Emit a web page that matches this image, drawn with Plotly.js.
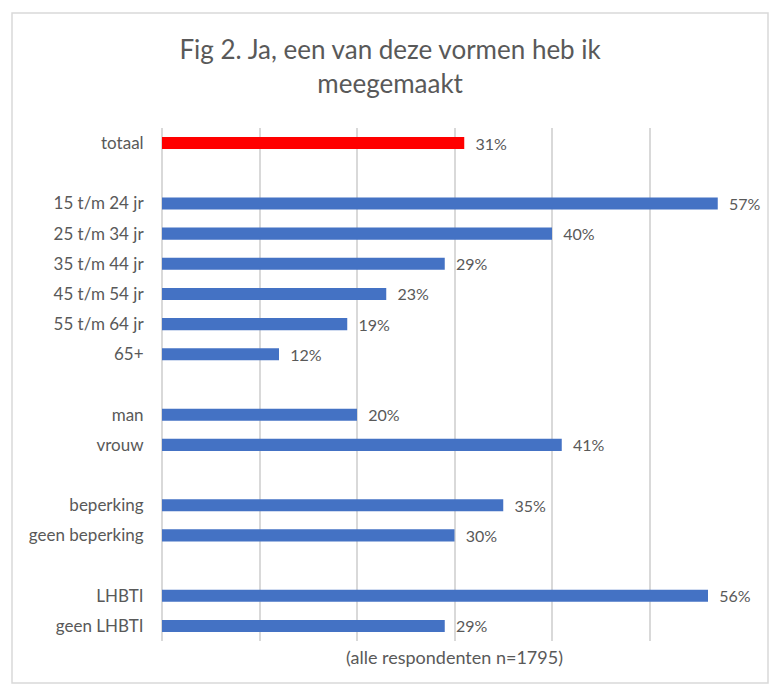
<!DOCTYPE html>
<html>
<head>
<meta charset="utf-8">
<script src="https://cdn.plot.ly/plotly-3.0.1.min.js"></script>
<style>html,body{margin:0;padding:0;background:#fff;}#chart{width:771px;height:686px;}</style>
</head>
<body>
<div id="chart"></div>
<script>
const categories = ["totaal", " ", "15 t/m 24 jr", "25 t/m 34 jr", "35 t/m 44 jr", "45 t/m 54 jr", "55 t/m 64 jr", "65+", "  ", "man", "vrouw", "   ", "beperking", "geen beperking", "    ", "LHBTI", "geen LHBTI"];
const values = [0.31, null, 0.57, 0.40, 0.29, 0.23, 0.19, 0.12, null, 0.20, 0.41, null, 0.35, 0.30, null, 0.56, 0.29];
const barColors = ["#FF0000", null, "#4472C4", "#4472C4", "#4472C4", "#4472C4", "#4472C4", "#4472C4", null, "#4472C4", "#4472C4", null, "#4472C4", "#4472C4", null, "#4472C4", "#4472C4"];
const xTicks = [0, 0.1, 0.2, 0.3, 0.4, 0.5, 0.6];

const labels = values.map(v => v === null ? "" : "\u00a0\u00a0" + Math.round(v * 100) + "%");
const FONT = "Lato, 'Open Sans', sans-serif";

const trace = {
  type: "bar",
  orientation: "h",
  y: categories,
  x: values,
  marker: {color: barColors.map(c => c || "#4472C4")},
  width: 0.4,
  text: labels,
  textposition: "outside",
  constraintext: "none",
  cliponaxis: false,
  textfont: {family: FONT, size: 16, color: "#595959"},
  hoverinfo: "skip"
};

const layout = {
  width: 771,
  height: 686,
  margin: {l: 162, r: 24, t: 128, b: 45},
  paper_bgcolor: "#ffffff",
  plot_bgcolor: "#ffffff",
  showlegend: false,
  font: {family: FONT, color: "#595959", size: 16},
  title: {
    text: "Fig 2. Ja, een van deze vormen heb ik<br>meegemaakt",
    font: {size: 26, color: "#595959", family: FONT},
    x: 0.506, xref: "container", xanchor: "center",
    y: 0.914, yref: "container", yanchor: "top"
  },
  xaxis: {
    range: [0, 0.6],
    tickvals: xTicks,
    showticklabels: false,
    showgrid: true,
    gridcolor: "#d9d9d9",
    gridwidth: 2,
    zeroline: true,
    zerolinecolor: "#d9d9d9",
    zerolinewidth: 2,
    showline: false,
    ticks: "",
    fixedrange: true,
    title: {text: "(alle respondenten n=1795)", font: {size: 18, color: "#595959", family: FONT}, standoff: 10}
  },
  yaxis: {
    type: "category",
    categoryorder: "array",
    categoryarray: categories,
    autorange: "reversed",
    showgrid: false,
    zeroline: false,
    showline: false,
    ticks: "outside",
    ticklen: 14,
    tickcolor: "rgba(0,0,0,0)",
    tickfont: {size: 17, color: "#595959", family: FONT},
    fixedrange: true
  },
  shapes: [{
    type: "rect", xref: "paper", yref: "paper",
    x0: -0.2564, x1: 1.0359, y0: -0.0819, y1: 1.2242,
    line: {color: "#d9d9d9", width: 1.5},
    fillcolor: "rgba(0,0,0,0)",
    layer: "below"
  }]
};

Plotly.newPlot("chart", [trace], layout, {displayModeBar: false, staticPlot: true});
</script>
</body>
</html>
